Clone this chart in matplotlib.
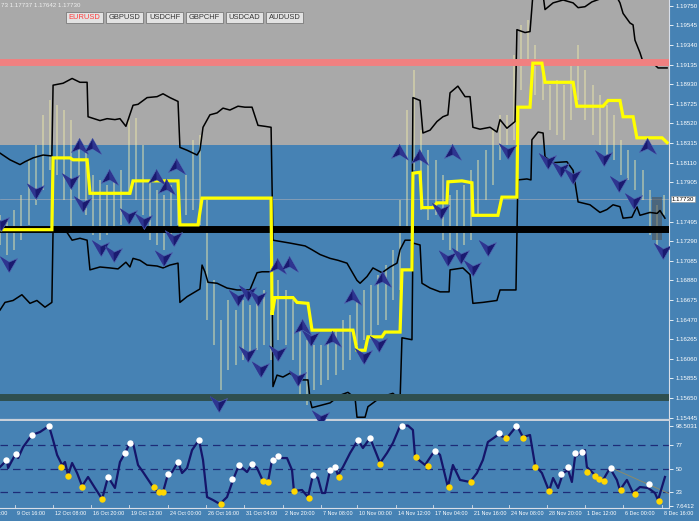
import matplotlib
matplotlib.use("Agg")
import matplotlib.pyplot as plt
import numpy as np
from matplotlib.path import Path
from matplotlib.patches import Rectangle

plt.rcParams['font.family'] = ['Liberation Sans', 'DejaVu Sans']

BLUE = '#4682B4'
GRAY = '#A9A9A9'

# ---- price bars (every 3rd 4H bar), high / low ----
bar_hi = [1.1756, 1.1751, 1.1762, 1.1777, 1.1814, 1.1829, 1.1861, 1.1876, 1.1871, 1.1866,
          1.1856, 1.1835, 1.1824, 1.1798, 1.1793, 1.1788, 1.1793, 1.1803, 1.1856, 1.1858,
          1.1829, 1.1793, 1.1782, 1.1777, 1.1788, 1.1788, 1.1798, 1.1835, 1.1840, 1.1772,
          1.1688, 1.1647, 1.1667, 1.1657, 1.1667, 1.1662, 1.1667, 1.1678, 1.1657, 1.1688,
          1.1678, 1.1667, 1.1636, 1.1626, 1.1620, 1.1620, 1.1626, 1.1636, 1.1647, 1.1652,
          1.1667, 1.1678, 1.1683, 1.1694, 1.1704, 1.1720, 1.1772, 1.1866, 1.1908, 1.1845,
          1.1824, 1.1814, 1.1798, 1.1777, 1.1782, 1.1788, 1.1803, 1.1814, 1.1824, 1.1845,
          1.1861, 1.1861, 1.1924, 1.1955, 1.1960, 1.1934, 1.1918, 1.1892, 1.1897, 1.1892,
          1.1918, 1.1934, 1.1908, 1.1892, 1.1882, 1.1871, 1.1861, 1.1835, 1.1824, 1.1814,
          1.1803, 1.1782, 1.1767, 1.1777]
bar_lo = [1.1725, 1.1715, 1.1720, 1.1730, 1.1746, 1.1767, 1.1782, 1.1803, 1.1798, 1.1772,
          1.1741, 1.1772, 1.1756, 1.1735, 1.1730, 1.1735, 1.1741, 1.1746, 1.1777, 1.1772,
          1.1756, 1.1730, 1.1725, 1.1720, 1.1735, 1.1746, 1.1756, 1.1762, 1.1746, 1.1647,
          1.1620, 1.1573, 1.1594, 1.1600, 1.1605, 1.1610, 1.1615, 1.1620, 1.1605, 1.1626,
          1.1620, 1.1605, 1.1568, 1.1558, 1.1573, 1.1579, 1.1584, 1.1589, 1.1594, 1.1605,
          1.1620, 1.1626, 1.1631, 1.1641, 1.1647, 1.1667, 1.1678, 1.1741, 1.1803, 1.1762,
          1.1751, 1.1756, 1.1730, 1.1720, 1.1715, 1.1725, 1.1730, 1.1756, 1.1772, 1.1788,
          1.1814, 1.1829, 1.1835, 1.1887, 1.1913, 1.1882, 1.1876, 1.1845, 1.1840, 1.1835,
          1.1856, 1.1876, 1.1856, 1.1840, 1.1829, 1.1819, 1.1814, 1.1798, 1.1793, 1.1782,
          1.1772, 1.1735, 1.1725, 1.1756]
bar_idx = np.arange(len(bar_hi)) * 3

# ---- channel lines ----
up_x = [0, 4.2, 8.4, 10.5, 13.9, 18.1, 21.8, 22.3, 26.5, 30.3, 33.6, 36.6, 37, 42, 45, 48.3, 50.4,
        52.9, 55.9, 58, 61.8, 66, 68.5, 71.4, 74.8, 75.6, 78.6, 82.8, 84, 85.3, 88.2, 91.2, 93.7,
        96.6, 100, 102.9, 105.9, 108.4, 111.3, 113.9, 114.7, 121.8, 128.2, 131.1, 134.5, 138.7,
        142, 145.8, 150, 151.3, 154.2, 156.7, 160.5, 163.9, 166.8, 168.1, 170.2, 173.1, 173.5,
        176.5, 177.7, 180.7, 183.6, 186.1, 188.2, 189.1, 192.4, 195.4, 197.5, 198.7, 201.7, 205.9,
        208.8, 210.1, 213, 216.4, 217.2, 220.6, 222.7, 223.9, 228.2, 229, 232.4, 236.6, 240.8,
        242.9, 245.8, 248.7, 254.2, 259.2, 260.5, 261.8, 264.7, 266, 266.8, 268.9, 270.2, 274.4,
        276.5, 280.3]
up_p = [1.1821, 1.1814, 1.1809, 1.1812, 1.1816, 1.1819, 1.1818, 1.1892, 1.1894, 1.1899, 1.1895,
        1.1895, 1.1859, 1.1855, 1.1857, 1.1856, 1.1857, 1.1849, 1.1871, 1.1872, 1.1879, 1.1880,
        1.1883, 1.1879, 1.1875, 1.1827, 1.1824, 1.1819, 1.1824, 1.1848, 1.1861, 1.1863, 1.1868,
        1.1866, 1.1870, 1.1869, 1.1869, 1.1850, 1.1849, 1.1848, 1.1730, 1.1727, 1.1724, 1.1720,
        1.1715, 1.1711, 1.1709, 1.1706, 1.1688, 1.1685, 1.1692, 1.1701, 1.1696, 1.1702, 1.1706,
        1.1720, 1.1730, 1.1730, 1.1879, 1.1876, 1.1842, 1.1845, 1.1854, 1.1859, 1.1861, 1.1884,
        1.1891, 1.1880, 1.1880, 1.1848, 1.1846, 1.1848, 1.1843, 1.1856, 1.1847, 1.1854, 1.1950,
        1.1947, 1.1948, 1.1986, 1.1986, 1.1971, 1.1978, 1.1981, 1.1978, 1.1973, 1.1974, 1.1979,
        1.1984, 1.1984, 1.1978, 1.1967, 1.1957, 1.1955, 1.1939, 1.1926, 1.1916, 1.1915, 1.1910,
        1.1910]
lo_x = [0, 2.1, 5.5, 9.2, 12.6, 15.5, 18.9, 21.8, 22.3, 28.2, 30.3, 33.6, 36.6, 37.8, 42, 46.2,
        49.6, 52.9, 54.6, 55.9, 58.8, 61.8, 66, 68.5, 71.4, 74.8, 75.6, 78.6, 84, 84.9, 86.1, 87.4,
        91.2, 95.4, 99.6, 105, 108, 110.1, 114.3, 114.7, 116.4, 118.9, 121.8, 124.8, 127.3, 129.4,
        130.3, 131.1, 135.7, 138.7, 142.9, 146.2, 149.2, 150, 153.4, 154.6, 158.4, 162.6, 165.1,
        168.1, 168.9, 173.1, 173.5, 176.5, 177.3, 180.7, 184.9, 188.7, 189.1, 194.5, 197.5, 198.7,
        202.9, 208.8, 210.1, 216.8, 217.6, 221.4, 223.1, 223.5, 226.1, 228.2, 229, 232.4, 238.2,
        240.8, 242.9, 247.9, 252.1, 255, 257.6, 260.5, 261.8, 265.5, 267.6, 268.9, 273.1, 276.1,
        277.3, 279.4]
lo_p = [1.1657, 1.1665, 1.1667, 1.1673, 1.1664, 1.1667, 1.1660, 1.1665, 1.1741, 1.1738, 1.1730,
        1.1732, 1.1730, 1.1699, 1.1702, 1.1701, 1.1700, 1.1707, 1.1702, 1.1711, 1.1709, 1.1704,
        1.1703, 1.1701, 1.1704, 1.1706, 1.1665, 1.1671, 1.1679, 1.1704, 1.1697, 1.1686, 1.1685,
        1.1680, 1.1678, 1.1678, 1.1696, 1.1697, 1.1697, 1.1577, 1.1589, 1.1587, 1.1591, 1.1586,
        1.1584, 1.1584, 1.1563, 1.1555, 1.1558, 1.1560, 1.1568, 1.1571, 1.1565, 1.1545, 1.1545,
        1.1556, 1.1563, 1.1568, 1.1570, 1.1563, 1.1628, 1.1626, 1.1727, 1.1725, 1.1685, 1.1680,
        1.1676, 1.1676, 1.1699, 1.1701, 1.1694, 1.1664, 1.1665, 1.1667, 1.1678, 1.1678, 1.1793,
        1.1794, 1.1793, 1.1835, 1.1843, 1.1842, 1.1817, 1.1811, 1.1812, 1.1803, 1.1770, 1.1767,
        1.1759, 1.1762, 1.1767, 1.1765, 1.1753, 1.1754, 1.1765, 1.1756, 1.1759, 1.1758, 1.1761,
        1.1753]

# ---- yellow stepped level ----
yl_x = [0, 21.8, 22.3, 29.4, 30.7, 36.6, 37.8, 54.6, 55.9, 74.8, 75.6, 83.2, 84.9, 113.9, 114.3,
        115.5, 123.1, 124.8, 129.4, 131.1, 148.3, 150, 153.4, 154.6, 160.5, 161.8, 168.1, 168.9,
        173.1, 173.5, 176.5, 177.3, 181.9, 183.6, 187.8, 188.2, 194.1, 198.3, 198.7, 209.2, 210.9,
        217.2, 217.6, 222.7, 223.9, 227.7, 229, 240.8, 242.4, 253.4, 255.5, 260.5, 261.8, 266,
        267.6, 278.2, 280.3]
yl_p = [1.1741, 1.1741, 1.1816, 1.1816, 1.1814, 1.1814, 1.1779, 1.1779, 1.1792, 1.1792, 1.1746,
        1.1746, 1.1774, 1.1774, 1.1652, 1.1670, 1.1670, 1.1665, 1.1664, 1.1636, 1.1636, 1.1615,
        1.1615, 1.1629, 1.1629, 1.1634, 1.1634, 1.1699, 1.1699, 1.1800, 1.1801, 1.1764, 1.1764,
        1.1769, 1.1769, 1.1791, 1.1792, 1.1790, 1.1756, 1.1756, 1.1775, 1.1775, 1.1869, 1.1869,
        1.1915, 1.1915, 1.1895, 1.1895, 1.1870, 1.1870, 1.1876, 1.1876, 1.1859, 1.1859, 1.1837,
        1.1837, 1.1832]

# ---- horizontal levels ----
level_red = 1.1916
level_black = 1.1742
level_dark = 1.1566
zone_top = 1.1829
last_price = 1.17730

# ---- arrow signals ----
sig_x = [3.4, 14.7, 0, 29.4, 34.5, 46.2, 53.8, 60.1, 66, 70.2, 74.4, 72.7, 42, 47.5, 68.5, 33.6,
         39.1, 99.6, 103.8, 108, 103.8, 109.2, 91.6, 116.8, 121.8, 127.3, 130.3, 139.9, 148.3,
         160.9, 158.8, 152.5, 116.4, 124.8, 187.8, 193.3, 198.3, 176.5, 190.3, 213, 229.8, 235.3,
         240.3, 253.4, 259.7, 184.9, 204.6, 168.1, 272.3, 266, 278.2, 134.5]
sig_p = [1.1706, 1.1782, 1.1749, 1.1793, 1.1769, 1.1795, 1.1756, 1.1751, 1.1795, 1.1785, 1.1806,
         1.1733, 1.1723, 1.1717, 1.1712, 1.1827, 1.1827, 1.1671, 1.1676, 1.1671, 1.1612, 1.1596,
         1.1560, 1.1702, 1.1704, 1.1638, 1.1629, 1.1626, 1.1670, 1.1688, 1.1623, 1.1610, 1.1613,
         1.1587, 1.1712, 1.1715, 1.1702, 1.1816, 1.1821, 1.1824, 1.1814, 1.1805, 1.1798, 1.1817,
         1.1790, 1.1762, 1.1723, 1.1821, 1.1827, 1.1772, 1.1720, 1.1545]
sig_up = [0, 0, 0, 0, 0, 1, 0, 0, 1, 1, 1, 0, 0, 0, 0, 1, 1, 0, 0, 0, 0, 0, 0, 1, 1, 1, 0, 1, 1, 1,
          0, 0, 0, 0, 0, 0, 0, 1, 1, 0, 0, 0, 0, 0, 0, 0, 0, 1, 1, 0, 0, 0]

# ---- oscillator ----
ind_x = [0, 2.9, 3.4, 6.3, 7.6, 9.7, 13.4, 16.8, 20.6, 22.3, 24, 26.1, 27.3, 28.6, 30.3, 32.4,
         34.5, 37, 39.9, 42.9, 45.4, 48.3, 50.4, 52.5, 54.6, 55.9, 58, 60.1, 64.3, 66.4, 68.5,
         70.6, 72.3, 74.8, 76.5, 78.6, 80.7, 83.6, 85.3, 87, 89.5, 92.4, 95.4, 97.9, 100.4, 103.8,
         105.9, 108, 110.5, 112.6, 114.3, 116.8, 118.5, 120.6, 122.7, 123.5, 126.9, 129.4, 131.5,
         133.6, 135.3, 136.6, 138.7, 140.8, 142, 144.1, 147.1, 150.4, 152.5, 155.5, 159.7, 162.6,
         165.1, 168.1, 171.4, 173.5, 174.4, 178.6, 182.8, 184.9, 188.2, 190.3, 193.3, 197.5, 200.4,
         202.9, 205, 209.2, 213, 217.2, 219.7, 222.7, 224.8, 227.7, 230.7, 232.4, 234.5, 236.6,
         238.7, 240.3, 241.6, 243.7, 245.8, 246.6, 250, 253.4, 256.3, 259.2, 260.5, 263.4, 266,
         268.9, 272.3, 275.2, 276.5, 279.4]
ind_v = [51.9, 59.9, 50.8, 65.6, 62.1, 74.6, 88.3, 91.7, 98.5, 82.6, 65.6, 54.2, 57.6, 42.8, 56.5,
         45.1, 30.3, 40.6, 28.1, 15.6, 40.6, 28.1, 57.6, 67.8, 79.2, 79.2, 54.2, 46.2, 29.2, 23.5,
         23.5, 44, 46.2, 57.6, 45.1, 50.8, 71.2, 82.6, 59.9, 17.8, 14.4, 9.9, 17.8, 37.2, 54.2, 46.2,
         55.3, 50.8, 36, 34.9, 59.9, 64.4, 62.1, 62.1, 48.5, 24.7, 25.8, 17.8, 42.8, 39.4, 22.4,
         22.4, 48.5, 51.9, 42.8, 51.9, 67.8, 82.6, 73.5, 84.9, 56.5, 67.8, 79.2, 98.5, 99, 94, 63.3,
         54.2, 71.2, 65.6, 29.2, 54.2, 37.2, 34.9, 45.1, 59.9, 80.3, 88.3, 84.9, 99, 86, 88.3, 54.2,
         45.1, 24.7, 39.4, 28.1, 45.1, 48.5, 34.9, 63.3, 67.8, 71.2, 51.9, 42.8, 37.2, 50.8, 37.2,
         25.8, 37.2, 22.4, 29.2, 28.1, 22.4, 14.4, 40.6]
white_x = [2.5, 6.7, 13.4, 20.6, 45.4, 52.5, 54.6, 70.6, 74.8, 83.6, 97.5, 100.4, 105.9, 114.7,
           116.8, 131.5, 138.7, 140.8, 150.4, 155.5, 168.9, 182.8, 209.7, 216.8, 235.7, 238.7,
           241.6, 244.5, 256.7, 272.7]
white_v = [59.9, 66.7, 88.3, 98.5, 40.6, 67.8, 79.2, 44, 57.6, 82.6, 38.3, 54.2, 55.3, 59.9, 64.4,
           42.8, 48.5, 51.9, 82.6, 84.9, 98.5, 70.1, 90.5, 98.5, 44, 51.9, 67.8, 69, 50.8, 32.6]
gold_x = [25.6, 28.6, 34.5, 42.9, 64.7, 66.8, 68.5, 92.9, 110.5, 112.6, 123.5, 129.8, 142.4, 159.7,
          174.8, 179.8, 188.7, 197.9, 212.6, 219.7, 224.8, 230.7, 246.6, 250, 251.7, 253.8, 260.9,
          266.8, 276.9]
gold_v = [51.9, 41.7, 29.2, 15.6, 29.2, 23.5, 23.5, 9.9, 36, 34.9, 24.7, 16.7, 40.6, 55.3, 63.3,
          53.1, 29.2, 34.9, 84.9, 84.9, 51.9, 24.7, 46.2, 41.7, 38.3, 36, 25.8, 21.3, 13.3]
trend_x = [257.0, 281.5]
trend_v = [50.8, 21.3]
osc_levels = [77, 50, 23]
osc_ticks = [98.5031, 77, 50, 23, 7.6412]
osc_tick_labels = ['98.5031', '77', '50', '23', '7.6412']

price_ticks = [1.19750, 1.19545, 1.19340, 1.19135, 1.18930, 1.18725, 1.18520, 1.18315, 1.18110,
               1.17905, 1.17495, 1.17290, 1.17085, 1.16880, 1.16675, 1.16470, 1.16265, 1.16060,
               1.15855, 1.15650, 1.15445]
time_ticks = [-9.7, 6.3, 22.3, 38.2, 54.2, 70.6, 86.6, 102.5, 118.9, 134.9, 150.0, 166.4, 181.9,
              198.3, 213.9, 229.8, 245.8, 261.8, 278.2]
time_labels = ['5 Oct 00:00', '9 Oct 16:00', '12 Oct 08:00', '16 Oct 20:00', '19 Oct 12:00',
               '24 Oct 00:00', '26 Oct 16:00', '31 Oct 04:00', '2 Nov 20:00', '7 Nov 08:00',
               '10 Nov 00:00', '14 Nov 12:00', '17 Nov 04:00', '21 Nov 16:00', '24 Nov 08:00',
               '28 Nov 20:00', '1 Dec 12:00', '6 Dec 00:00', '8 Dec 16:00']
symbols = ['EURUSD', 'GBPUSD', 'USDCHF', 'GBPCHF', 'USDCAD', 'AUDUSD']
quote_text = '73 1.17737 1.17642 1.17730'

W, H = 699, 521
fig = plt.figure(figsize=(W / 100, H / 100), dpi=100, facecolor=BLUE)
ax = fig.add_axes([0, 1 - 420 / H, 669 / W, 420 / H], facecolor=BLUE)
ind = fig.add_axes([0, 13 / H, 669 / W, 87 / H], facecolor=BLUE)

XMAX = 281.1
FS = 4.4

# main chart
ax.axhspan(zone_top, 1.21, color=GRAY, zorder=0, lw=0)
ax.axhline(last_price, color='#9AA6B6', lw=0.5, zorder=1)
ax.vlines(bar_idx, bar_lo, bar_hi, color='#EEE8AA', alpha=0.6, lw=1.1, zorder=2)
ax.add_patch(Rectangle((274, 1.1730), 4.2, 0.0045, fc='#505050', alpha=0.55, lw=0, zorder=2))
ax.plot(up_x, up_p, color='black', lw=1.1, zorder=3)
ax.plot(lo_x, lo_p, color='black', lw=1.1, zorder=3)
ax.axhline(level_red, color='#F08080', lw=5, zorder=3)
ax.axhline(level_dark, color='#2F4F4F', lw=5, zorder=3)
ax.axhline(level_black, color='black', lw=5, zorder=3)
ax.plot(yl_x, yl_p, color='#FFFF00', lw=2.3, zorder=4, solid_joinstyle='miter')

# arrowheads: dark body plus a lighter facet for the 3D look
codes = [Path.MOVETO, Path.LINETO, Path.LINETO, Path.LINETO, Path.CLOSEPOLY]
arrow_dn = Path([(0.1, -1), (1, 0.55), (0.05, 0.15), (-0.9, 0.75), (0.1, -1)], codes)
facet_dn = Path([(0.1, -1), (0.05, 0.15), (-0.9, 0.75), (0.1, -1)], codes[:3] + [Path.CLOSEPOLY])
arrow_up = Path([(-0.1, 1), (-1, -0.55), (-0.05, -0.15), (0.9, -0.75), (-0.1, 1)], codes)
facet_up = Path([(-0.1, 1), (-0.05, -0.15), (0.9, -0.75), (-0.1, 1)], codes[:3] + [Path.CLOSEPOLY])
sx = np.array(sig_x)
sp = np.array(sig_p)
su = np.array(sig_up, dtype=bool)
for mask, body, facet in ((su, arrow_up, facet_up), (~su, arrow_dn, facet_dn)):
    ax.scatter(sx[mask], sp[mask], marker=body, s=170, facecolor='#1A1A70',
               edgecolor='#4F63B0', linewidths=0.5, zorder=5)
    ax.scatter(sx[mask], sp[mask], marker=facet, s=170, facecolor='#2E3590',
               edgecolor='none', zorder=6)

ax.set_xlim(0, XMAX)
ax.set_ylim(1.15421, 1.1981)
ax.set_xticks([])
ax.yaxis.tick_right()
ax.set_yticks(price_ticks)
ax.set_yticklabels([f'{t:.5f}' for t in price_ticks])
ax.tick_params(axis='y', colors='white', labelsize=FS, length=3, width=0.6, pad=2)
for s in ('left', 'top'):
    ax.spines[s].set_visible(False)
ax.spines['right'].set_color('#D8DEE8')
ax.spines['right'].set_linewidth(0.8)
ax.spines['bottom'].set_color('#C8D0DA')
ax.spines['bottom'].set_linewidth(1.6)

ax.annotate(f'{last_price:.5f}', xy=(1.004, last_price), xycoords=('axes fraction', 'data'),
            ha='left', va='center', fontsize=FS, color='black', annotation_clip=False,
            bbox=dict(boxstyle='square,pad=0.15', fc='white', ec='#909090', lw=0.4))

# oscillator panel
for lv in osc_levels:
    ind.axhline(lv, color='#1E2C78', lw=0.9, dashes=(6, 4), zorder=1)
ind.plot(trend_x, trend_v, color='#8A8A6A', lw=0.7, zorder=2)
ind.plot(ind_x, ind_v, color='#15156A', lw=1.6, zorder=3)
ind.plot(white_x, white_v, 'o', ms=4.6, color='white', mew=0, zorder=4)
ind.plot(gold_x, gold_v, 'o', ms=4.6, color='#FFD700', mew=0, zorder=4)
ind.set_xlim(0, XMAX)
ind.set_ylim(5.35, 104.2)
ind.yaxis.tick_right()
ind.set_yticks(osc_ticks)
ind.set_yticklabels(osc_tick_labels)
ind.tick_params(axis='y', colors='white', labelsize=FS, length=3, width=0.6, pad=2)
ind.set_xticks([])
for s in ('left', 'top'):
    ind.spines[s].set_visible(False)
ind.spines['right'].set_color('#D8DEE8')
ind.spines['right'].set_linewidth(0.8)
ind.spines['bottom'].set_color('#D8DEE8')
ind.spines['bottom'].set_linewidth(0.8)

for tx, lab in zip(time_ticks, time_labels):
    ind.plot([tx, tx], [0, 0.04], transform=ind.get_xaxis_transform(), color='#D8DEE8',
             lw=0.6, clip_on=False)
    ind.annotate(lab, xy=(tx, 0), xycoords=('data', 'axes fraction'), xytext=(1.5, -2.5),
                 textcoords='offset points', ha='left', va='top', fontsize=3.9, color='white',
                 annotation_clip=False)

# header: quote and symbol buttons
fig.text(1 / W, 1 - 3 / H, quote_text, ha='left', va='top', fontsize=FS, color='#F0F0F0')
for i, sym in enumerate(symbols):
    x0 = 66 + i * 40
    fig.add_artist(Rectangle((x0 / W, 1 - 23 / H), 37 / W, 11 / H, transform=fig.transFigure,
                             fc='#E2E2E2', ec='#7A7A7A', lw=0.6))
    fig.text((x0 + 18.5) / W, 1 - 17.5 / H, sym, ha='center', va='center', fontsize=5.4,
             color='#FF3B3B' if i == 0 else '#333333')

fig.savefig('out.png', dpi=100, facecolor=BLUE)
